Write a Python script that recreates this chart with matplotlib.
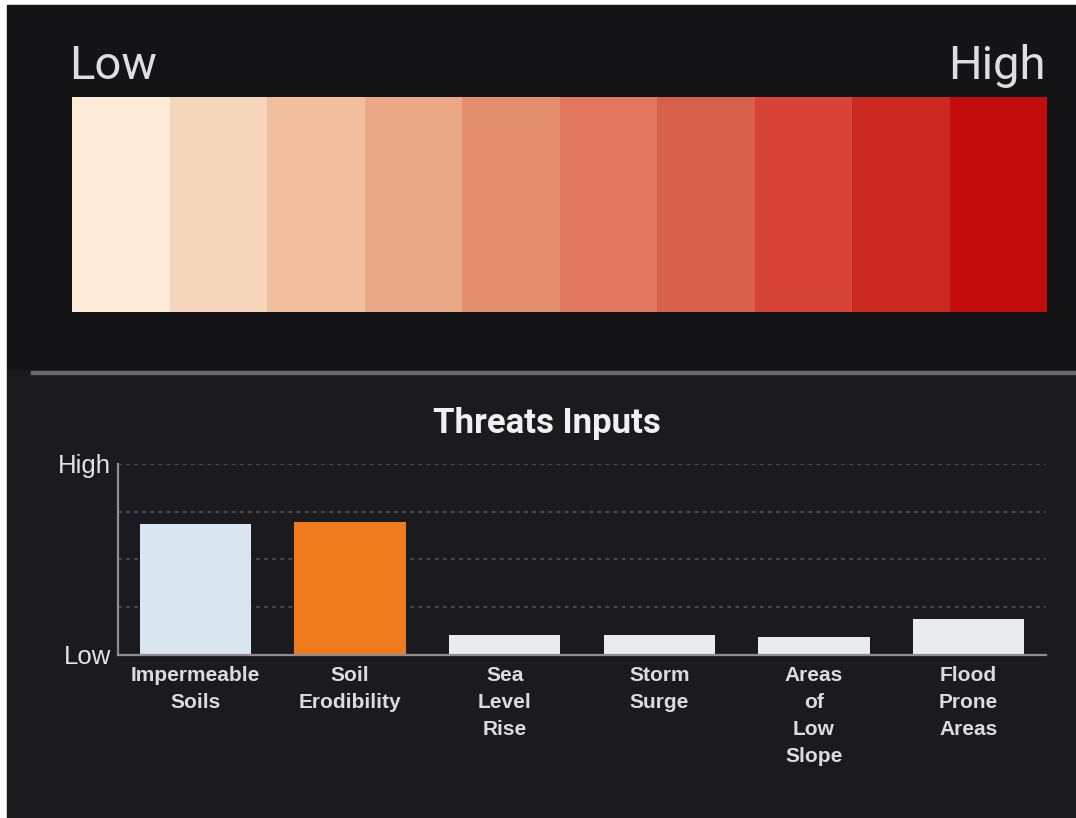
import matplotlib.pyplot as plt
from matplotlib.patches import Rectangle

# legend swatches, light to dark
scale_colors = ["#fdebd9", "#f5d6bb", "#f0c09e", "#eba886", "#e38f6e",
                "#e0775e", "#d6604a", "#d74337", "#cb2820", "#c20b0b"]
scale_ends = ["Low", "High"]

categories = ["Impermeable\nSoils", "Soil\nErodibility", "Sea\nLevel\nRise",
              "Storm\nSurge", "Areas\nof\nLow\nSlope", "Flood\nProne\nAreas"]
values = [2.74, 2.78, 0.41, 0.42, 0.37, 0.74]
bar_colors = ["#d9e6f0", "#f07b1d", "#e9ebef", "#e9ebef", "#e9ebef", "#e9ebef"]
y_ticks = [0, 4]
y_labels = ["Low", "High"]

W, H = 1076, 818
fig = plt.figure(figsize=(W / 100, H / 100), dpi=100, facecolor="white")


def fx(px):
    return px / W


def fy(py):
    return 1 - py / H


# panel backgrounds (behind the axes)
fig.patches.append(Rectangle((fx(7), fy(370)), 1, fy(5) - fy(370),
                             transform=fig.transFigure, color="#141416", zorder=-3))
fig.patches.append(Rectangle((fx(7), 0), 1, fy(370),
                             transform=fig.transFigure, color="#1b1b1f", zorder=-3))
fig.patches.append(Rectangle((fx(31), fy(374)), 1, 3 / H,
                             transform=fig.transFigure, color="#6a6a6c", zorder=-2))

# colour scale
cax = fig.add_axes([fx(72), fy(312), fx(1047) - fx(72), fy(97) - fy(312)])
cax.bar(range(len(scale_colors)), [1] * len(scale_colors), width=1.0,
        color=scale_colors, align="edge")
cax.set_xlim(0, len(scale_colors))
cax.set_ylim(0, 1)
cax.axis("off")

fig.text(fx(69), fy(79), scale_ends[0], family="Roboto", fontsize=34,
         color="#dedede", ha="left", va="baseline")
fig.text(fx(1046), fy(79), scale_ends[1], family="Roboto", fontsize=34,
         color="#dedede", ha="right", va="baseline")

# threats bar chart
fig.text(fx(547), fy(433), "Threats Inputs", family="Roboto", fontweight="bold",
         fontsize=25, color="#f0f0f0", ha="center", va="baseline")

ax = fig.add_axes([fx(118), fy(654.6), fx(1046) - fx(118), fy(463.8) - fy(654.6)])
ax.set_facecolor("none")
x = range(len(categories))
ax.bar(x, values, width=0.72, color=bar_colors, zorder=3)
ax.set_xlim(-0.5, len(categories) - 0.5)
ax.set_ylim(0, 4)

for yv in [1, 2, 3, 4]:
    ax.axhline(yv, color="#505054", lw=1.3, linestyle=(0, (2, 2.5)), zorder=1)

for side in ["top", "right"]:
    ax.spines[side].set_visible(False)
for side in ["left", "bottom"]:
    ax.spines[side].set_color("#8e8e90")
    ax.spines[side].set_linewidth(1.6)
    ax.spines[side].set_zorder(4)

ax.set_yticks(y_ticks)
ax.set_yticklabels(y_labels, family="Liberation Sans", fontsize=18.5, color="#e4e4e4")
ax.set_xticks(list(x))
ax.set_xticklabels(categories, family="Liberation Sans", fontweight="bold",
                   fontsize=15, color="#dcdcdc", linespacing=1.55)
ax.tick_params(axis="both", length=0)
ax.tick_params(axis="y", pad=5)
ax.tick_params(axis="x", pad=8)

fig.savefig("out.png", dpi=100, facecolor=fig.get_facecolor())
